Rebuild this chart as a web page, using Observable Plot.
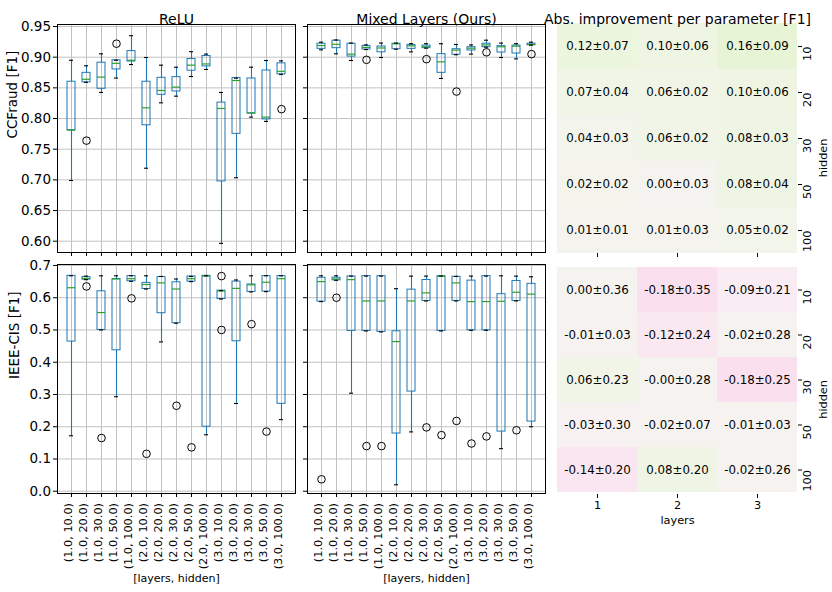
<!DOCTYPE html>
<html><head><meta charset="utf-8">
<script src="https://cdn.jsdelivr.net/npm/d3@7"></script>
<script src="https://cdn.jsdelivr.net/npm/@observablehq/plot@0.6"></script>
<style>
body{margin:0;background:#fff;}
#chart{position:relative;width:832px;height:592px;background:#fff;font-family:"DejaVu Sans",sans-serif;}
#chart svg{position:absolute;left:0;top:0;}
</style></head><body><div id="chart"></div>
<script>
const W = 832, H = 592;

// ---- categories / tick labels ----
const categories = ["(1.0, 10.0)","(1.0, 20.0)","(1.0, 30.0)","(1.0, 50.0)","(1.0, 100.0)",
  "(2.0, 10.0)","(2.0, 20.0)","(2.0, 30.0)","(2.0, 50.0)","(2.0, 100.0)",
  "(3.0, 10.0)","(3.0, 20.0)","(3.0, 30.0)","(3.0, 50.0)","(3.0, 100.0)"];
const layers = ["1","2","3"];
const hidden = ["10","20","30","50","100"];
const ccfraudTicks = [0.60,0.65,0.70,0.75,0.80,0.85,0.90,0.95];
const ieeeTicks = [0.0,0.1,0.2,0.3,0.4,0.5,0.6,0.7];

// ---- box stats: [whiskerLow, q1, median, q3, whiskerHigh] ----
const reluCCFraud = [
  [0.699,0.781,0.781,0.860,0.895],[0.859,0.859,0.864,0.8745,0.886],[0.8425,0.8485,0.8675,0.891,0.9055],
  [0.866,0.880,0.890,0.895,0.895],[0.888,0.893,0.895,0.910,0.935],[0.719,0.789,0.8175,0.860,0.8995],
  [0.8256,0.8387,0.8457,0.8664,0.887],[0.8365,0.8441,0.8512,0.8675,0.8837],[0.8685,0.878,0.887,0.897,0.909],
  [0.880,0.885,0.889,0.902,0.905],[0.5965,0.6975,0.8164,0.826,0.8425],[0.7035,0.775,0.862,0.866,0.8658],
  [0.8023,0.808,0.8094,0.8653,0.8837],[0.7953,0.7985,0.8023,0.8783,0.8946],[0.872,0.872,0.877,0.890,0.894]];
const reluCCFraudFliers = [[1,0.764],[3,0.922],[14,0.8153]];

const mixedCCFraud = [
  [0.912,0.9136,0.919,0.922,0.9245],[0.9055,0.9147,0.921,0.927,0.928],[0.8946,0.901,0.905,0.922,0.923],
  [0.9125,0.9125,0.916,0.9185,0.920],[0.8995,0.908,0.915,0.9174,0.923],[0.913,0.913,0.9218,0.922,0.923],
  [0.9087,0.9136,0.9185,0.920,0.922],[0.9147,0.9147,0.917,0.919,0.922],[0.8653,0.8745,0.8924,0.905,0.922],
  [0.904,0.904,0.9115,0.913,0.9207],[0.905,0.911,0.9147,0.9163,0.920],[0.9163,0.9163,0.920,0.922,0.9277],
  [0.8995,0.9076,0.917,0.918,0.923],[0.8973,0.906,0.918,0.919,0.922],[0.9196,0.9196,0.9207,0.922,0.9245]];
const mixedCCFraudFliers = [[3,0.8957],[7,0.8968],[9,0.844],[11,0.908],[14,0.905]];

const reluIEEE = [
  [0.172,0.464,0.631,0.668,0.668],[0.656,0.656,0.660,0.664,0.667],[0.500,0.500,0.554,0.620,0.668],
  [0.293,0.437,0.658,0.658,0.668],[0.651,0.651,0.659,0.667,0.668],[0.627,0.627,0.641,0.646,0.668],
  [0.463,0.552,0.646,0.664,0.666],[0.521,0.521,0.627,0.648,0.658],[0.650,0.650,0.659,0.666,0.666],
  [0.175,0.200,0.667,0.668,0.668],[0.596,0.596,0.621,0.622,0.622],[0.272,0.465,0.629,0.650,0.655],
  [0.618,0.618,0.640,0.641,0.668],[0.619,0.619,0.648,0.667,0.668],[0.222,0.271,0.659,0.667,0.668]];
const reluIEEEFliers = [[1,0.635],[2,0.165],[4,0.598],[5,0.116],[7,0.265],[8,0.136],[10,0.667],[10,0.500],[12,0.518],[13,0.185]];

const mixedIEEE = [
  [0.588,0.588,0.650,0.662,0.668],[0.654,0.654,0.658,0.662,0.668],[0.304,0.497,0.656,0.666,0.667],
  [0.497,0.497,0.590,0.667,0.667],[0.494,0.494,0.590,0.667,0.667],[0.020,0.179,0.464,0.496,0.628],
  [0.184,0.309,0.590,0.625,0.667],[0.590,0.590,0.615,0.655,0.667],[0.497,0.497,0.667,0.667,0.667],
  [0.590,0.590,0.646,0.665,0.666],[0.499,0.499,0.588,0.653,0.667],[0.499,0.499,0.588,0.667,0.667],
  [0.132,0.185,0.589,0.611,0.668],[0.590,0.590,0.617,0.652,0.667],[0.200,0.216,0.611,0.643,0.665]];
const mixedIEEEFliers = [[0,0.037],[1,0.600],[3,0.140],[4,0.140],[7,0.198],[8,0.174],[9,0.218],[10,0.148],[11,0.170],[13,0.189]];

// ---- heatmaps: rows = hidden, cols = layers ----
const ccfraudMean = [[0.12,0.10,0.16],[0.07,0.06,0.10],[0.04,0.06,0.08],[0.02,0.00,0.08],[0.01,0.01,0.05]];
const ccfraudStd  = [[0.07,0.06,0.09],[0.04,0.02,0.06],[0.03,0.02,0.03],[0.02,0.03,0.04],[0.01,0.03,0.02]];
const ieeeMean = [[0.00,-0.18,-0.09],[-0.01,-0.12,-0.02],[0.06,-0.004,-0.18],[-0.03,-0.02,-0.01],[-0.14,0.08,-0.02]];
const ieeeStd  = [[0.36,0.35,0.21],[0.03,0.24,0.28],[0.23,0.28,0.25],[0.30,0.07,0.03],[0.20,0.20,0.26]];

const FONT = "DejaVu Sans";
const GRID = "#c2c2c2";
const BLUE = "#1f77b4", GREEN = "#2ca02c";
const chart = document.getElementById("chart");

function place(svg) { chart.appendChild(svg); }

function boxPanel({stats, fliers, frame, yDomain, yTicks, yFmt, showYLabels, showXLabels, title, yLabel, yLabelDx}) {
  const rows = stats.map((s, i) => ({cat: categories[i], lo: s[0], q1: s[1], med: s[2], q3: s[3], hi: s[4]}));
  const fl = fliers.map(([i, v]) => ({cat: categories[i], v}));
  const [L, T, R, B] = frame;
  const marks = [
    Plot.gridY(yTicks, {stroke: GRID, strokeOpacity: 1, strokeWidth: 1}),
    Plot.gridX({stroke: GRID, strokeOpacity: 1, strokeWidth: 1}),
    Plot.ruleX(rows, {x: "cat", y1: "lo", y2: "q1", stroke: BLUE, strokeWidth: 1.1}),
    Plot.ruleX(rows, {x: "cat", y1: "q3", y2: "hi", stroke: BLUE, strokeWidth: 1.1}),
    Plot.barY(rows, {x: "cat", y1: "q1", y2: "q3", fill: "none", stroke: BLUE, strokeWidth: 1}),
    Plot.tickY(rows, {x: "cat", y: "med", stroke: GREEN, strokeWidth: 1.2}),
    Plot.tickY(rows, {x: "cat", y: "lo", stroke: "black", strokeWidth: 1.1, inset: 2}),
    Plot.tickY(rows, {x: "cat", y: "hi", stroke: "black", strokeWidth: 1.1, inset: 2}),
    Plot.dot(fl, {x: "cat", y: "v", r: 3.8, stroke: "black", fill: "none", strokeWidth: 1}),
    Plot.frame({stroke: "black", strokeWidth: 1}),
    Plot.axisY(yTicks, {tickSize: 4, tickPadding: 2.5, fontSize: 13.5, label: null,
      tickFormat: showYLabels ? yFmt : () => ""}),
    Plot.axisX({tickSize: 4, label: null, tickFormat: () => ""}),
    Plot.text([title], {text: d => d, frameAnchor: "top", dy: -10.5, fontSize: 14})
  ];
  if (showXLabels) {
    marks.push(Plot.text(categories, {x: d => d, text: d => d, frameAnchor: "bottom", dy: 9.5,
      rotate: -90, textAnchor: "end", fontSize: 11.3}));
    marks.push(Plot.text(["[layers, hidden]"], {text: d => d, frameAnchor: "bottom", dy: 88, fontSize: 11}));
  }
  if (yLabel) {
    marks.push(Plot.text([yLabel], {text: d => d, frameAnchor: "left", rotate: -90, dx: yLabelDx, fontSize: 13.5}));
  }
  place(Plot.plot({
    width: W, height: H,
    marginLeft: L, marginTop: T, marginRight: W - R, marginBottom: H - B,
    x: {type: "band", domain: categories, paddingInner: 0.5, paddingOuter: 0.25},
    y: {type: "linear", domain: yDomain},
    style: {fontFamily: FONT, fontSize: "11px", background: "transparent", overflow: "visible"},
    marks
  }));
}

function heatPanel({means, stds, frame, showXLabels, title}) {
  const cells = [];
  hidden.forEach((h, r) => layers.forEach((l, c) => cells.push({l, h, m: means[r][c], s: stds[r][c]})));
  const [L, T, R, B] = frame;
  const marks = [
    Plot.cell(cells, {x: "l", y: "h", fill: "m", inset: 0}),
    Plot.text(cells, {x: "l", y: "h", text: d => `${d.m.toFixed(2)}±${d.s.toFixed(2)}`, fontSize: 11.8, fill: "black"}),
    Plot.axisY({anchor: "right", tickSize: 4, label: null, tickFormat: () => ""}),
    Plot.axisX({anchor: "bottom", tickSize: 4, label: null, tickFormat: () => ""}),
    Plot.text(hidden, {y: d => d, text: d => d, frameAnchor: "right", dx: 10, rotate: -90, fontSize: 11.3}),
    Plot.text(["hidden"], {text: d => d, frameAnchor: "right", dx: 26, rotate: -90, fontSize: 11.3})
  ];
  if (title) marks.push(Plot.text([title], {text: d => d, frameAnchor: "top", dy: -9.5, fontSize: 14}));
  if (showXLabels) {
    marks.push(Plot.text(layers, {x: d => d, text: d => d, frameAnchor: "bottom", dy: 14, fontSize: 11.3}));
    marks.push(Plot.text(["layers"], {text: d => d, frameAnchor: "bottom", dy: 29, fontSize: 11.3}));
  }
  place(Plot.plot({
    width: W, height: H,
    marginLeft: L, marginTop: T, marginRight: W - R, marginBottom: H - B,
    x: {type: "band", domain: layers, padding: 0},
    y: {type: "band", domain: hidden, padding: 0},
    color: {type: "linear", scheme: "PiYG", domain: [-1, 1]},
    style: {fontFamily: FONT, fontSize: "11px", background: "transparent", overflow: "visible"},
    marks
  }));
}

const fmt2 = d => d.toFixed(2), fmt1 = d => d.toFixed(1);
const topDomain = [0.5816, 0.9533], botDomain = [-0.007, 0.703];

boxPanel({stats: reluCCFraud, fliers: reluCCFraudFliers, frame: [57, 24, 295, 252], yDomain: topDomain,
  yTicks: ccfraudTicks, yFmt: fmt2, showYLabels: true, showXLabels: false, title: "ReLU",
  yLabel: "CCFraud [F1]", yLabelDx: -45});
boxPanel({stats: mixedCCFraud, fliers: mixedCCFraudFliers, frame: [307, 24, 545, 252], yDomain: topDomain,
  yTicks: ccfraudTicks, yFmt: fmt2, showYLabels: false, showXLabels: false, title: "Mixed Layers (Ours)"});
boxPanel({stats: reluIEEE, fliers: reluIEEEFliers, frame: [57, 264, 295, 493], yDomain: botDomain,
  yTicks: ieeeTicks, yFmt: fmt1, showYLabels: true, showXLabels: true, title: "",
  yLabel: "IEEE-CIS [F1]", yLabelDx: -43});
boxPanel({stats: mixedIEEE, fliers: mixedIEEEFliers, frame: [307, 264, 545, 493], yDomain: botDomain,
  yTicks: ieeeTicks, yFmt: fmt1, showYLabels: false, showXLabels: true, title: ""});
heatPanel({means: ccfraudMean, stds: ccfraudStd, frame: [557, 23, 797, 253], showXLabels: false,
  title: "Abs. improvement per parameter [F1]"});
heatPanel({means: ieeeMean, stds: ieeeStd, frame: [557, 265, 797, 494], showXLabels: true, title: ""});
</script></body></html>
